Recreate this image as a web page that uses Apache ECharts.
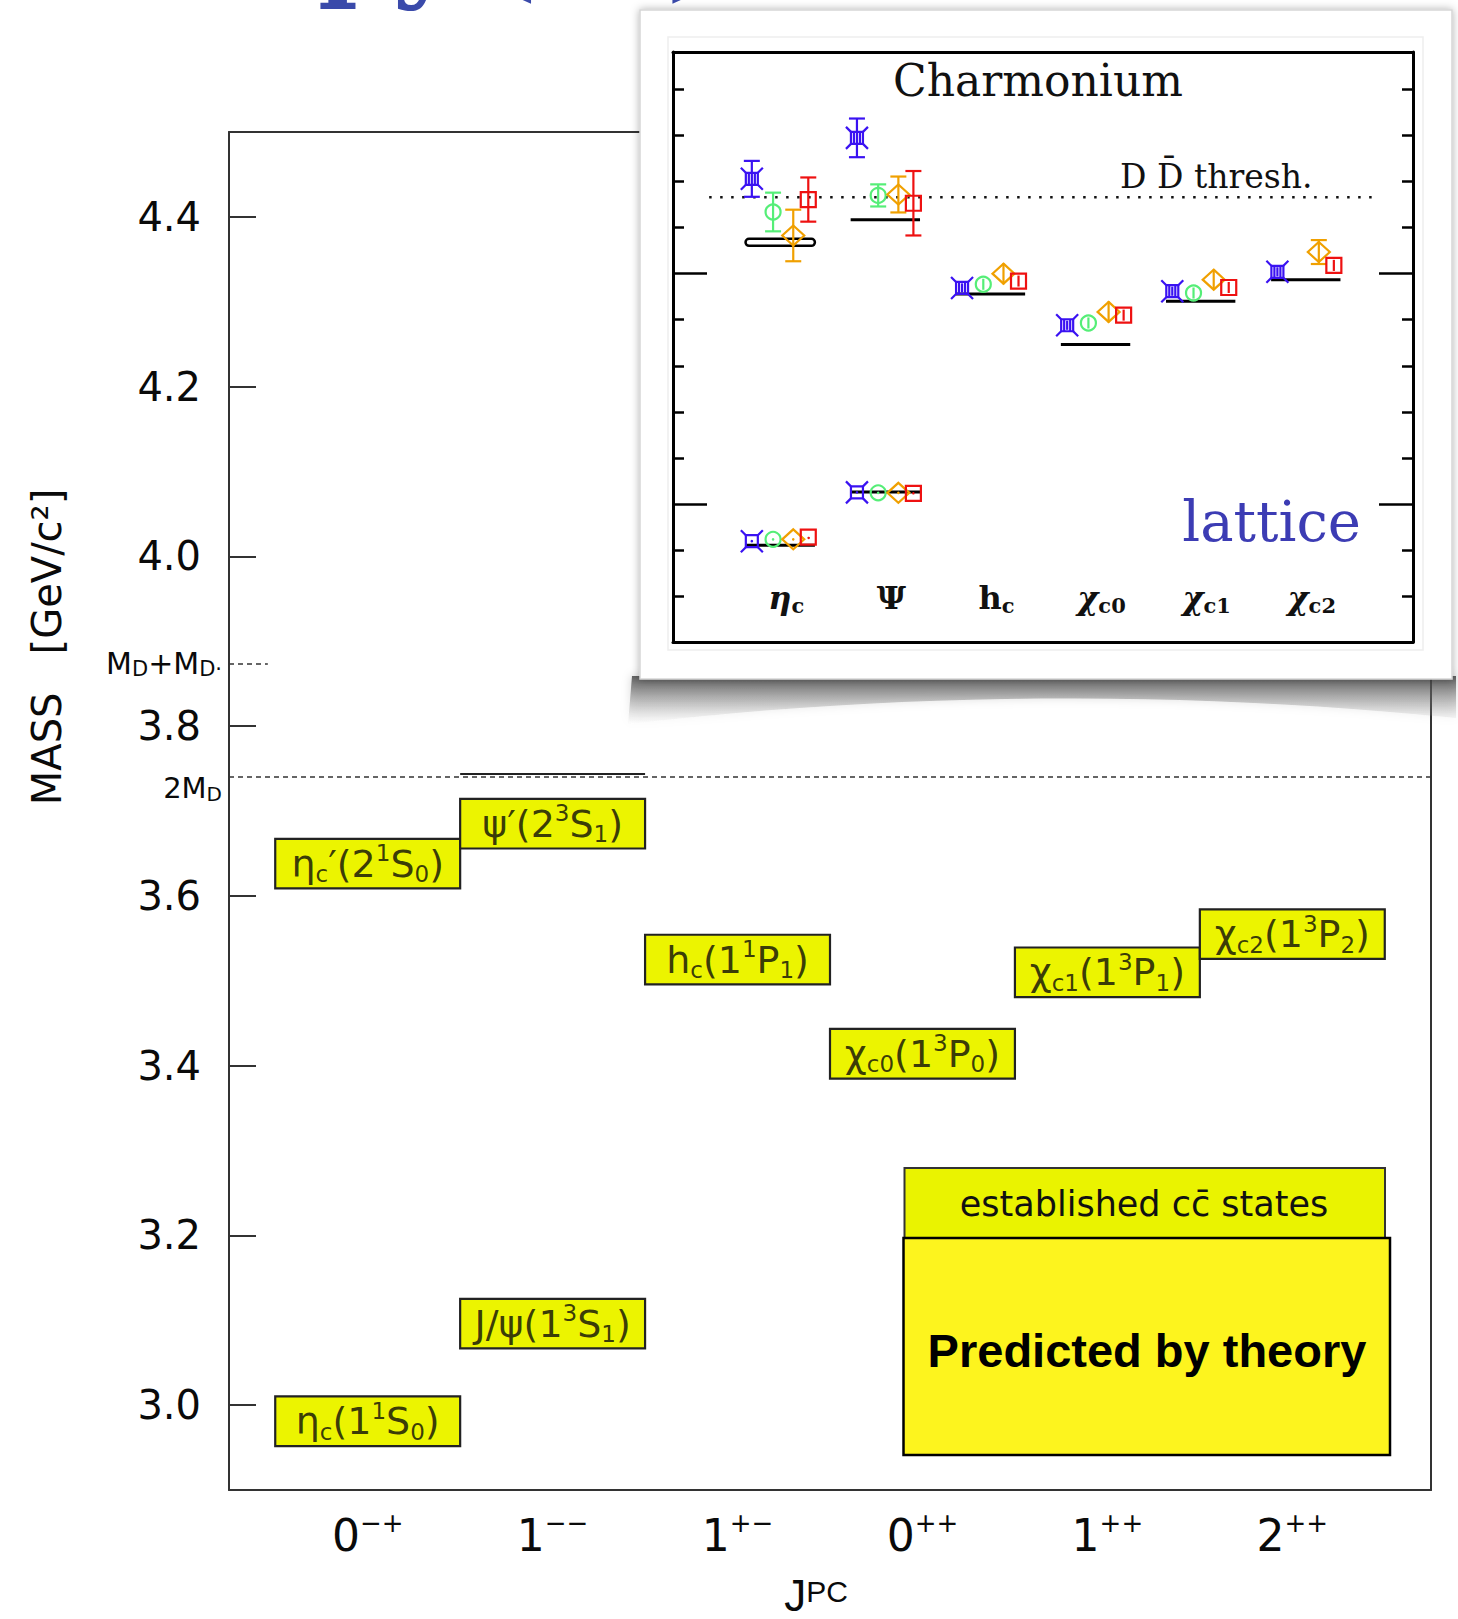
<!DOCTYPE html>
<html><head><meta charset="utf-8">
<script src="https://cdn.jsdelivr.net/npm/echarts@6/dist/echarts.min.js"></script>
<style>html,body{margin:0;padding:0;background:#fff}#c{width:1458px;height:1619px}</style>
</head><body><div id="c"></div>
<script>
// ---------------- DATA ----------------
// main chart: J^PC columns
const jpcColumns = [0, 1, 2, 3, 4, 5];
const jpcBase = ['0', '1', '1', '0', '1', '2'];
const jpcSup = ['\u2212+', '\u2212\u2212', '+\u2212', '++', '++', '++'];
const massTicks = [3.0, 3.2, 3.4, 3.6, 3.8, 4.0, 4.2, 4.4];
// established charmonium states
const stateColumn = [0, 1, 0, 1, 2, 3, 4, 5];
const stateMass = [2.981, 3.096, 3.638, 3.685, 3.525, 3.414, 3.510, 3.555];
const stateLabels = [
  '{n|\u03b7}{sub|c}{n|(1}{sup|1}{n|S}{sub|0}{n|)}',
  '{n|J/\u03c8(1}{sup|3}{n|S}{sub|1}{n|)}',
  '{n|\u03b7}{sub|c}{n|\u2032(2}{sup|1}{n|S}{sub|0}{n|)}',
  '{n|\u03c8\u2032(2}{sup|3}{n|S}{sub|1}{n|)}',
  '{n|h}{sub|c}{n|(1}{sup|1}{n|P}{sub|1}{n|)}',
  '{n|\u03c7}{sub|c0}{n|(1}{sup|3}{n|P}{sub|0}{n|)}',
  '{n|\u03c7}{sub|c1}{n|(1}{sup|3}{n|P}{sub|1}{n|)}',
  '{n|\u03c7}{sub|c2}{n|(1}{sup|3}{n|P}{sub|2}{n|)}'
];
// thresholds (GeV)
const thresholdMass = [3.740, 3.874];           // 2M_D, M_D+M_D*
const thresholdLabels = ['{m|2M}{s|D}', '{m|M}{s|D}{m|+M}{s|D\u00b7}'];
const psiLineMass = 3.744;                       // short solid line in the 1-- column

// inset (lattice)
const insetCols = [0, 1, 2, 3, 4, 5];
const insetNames = [
  '{g|\u03b7}{s|c}', '{u|\u03a8}', '{u|h}{s|c}', '{g|\u03c7}{s|c0}', '{g|\u03c7}{s|c1}', '{g|\u03c7}{s|c2}'
];
const insetExpCol = [0, 0, 1, 1, 2, 3, 4, 5];
const insetExpMass = [2.981, 3.639, 3.097, 3.688, 3.527, 3.417, 3.511, 3.558];
const insetThreshold = 3.737;
const insetMinorTicks = [2.871, 2.971, 3.171, 3.271, 3.371, 3.471, 3.671, 3.771, 3.871, 3.971];
const insetMajorTicks = [3.071, 3.571];
// lattice results: [column, mass, error]
const latticeBlue = [[0, 2.990, 0], [0, 3.777, 0.039], [1, 3.096, 0], [1, 3.866, 0.042],
  [2, 3.540, 0.010], [3, 3.459, 0.010], [4, 3.533, 0.010], [5, 3.575, 0.010]];
const latticeGreen = [[0, 2.994, 0], [0, 3.705, 0.042], [1, 3.095, 0], [1, 3.741, 0.024],
  [2, 3.548, 0.012], [3, 3.464, 0.012], [4, 3.529, 0.012]];
const latticeOrange = [[0, 2.994, 0], [0, 3.654, 0.056], [1, 3.095, 0], [1, 3.743, 0.039],
  [2, 3.571, 0.023], [3, 3.488, 0.023], [4, 3.558, 0.022], [5, 3.618, 0.026]];
const latticeRed = [[0, 2.999, 0], [0, 3.732, 0.048], [1, 3.094, 0], [1, 3.724, 0.070],
  [2, 3.555, 0.012], [3, 3.481, 0.012], [4, 3.541, 0.012], [5, 3.589, 0.012]];

// ---------------- STYLE ----------------
const SANS = '"DejaVu Sans", sans-serif';
const ARIAL = '"Liberation Sans", Arial, sans-serif';
const SERIF = '"DejaVu Serif", serif';
const BOX_HALF_H = 0.0292, BOX_HALF_W = 0.5;
const EXP_HALF = 0.33, DOUBLE_LINE_INDEX = 1;
const LAT_DX = {blue: -0.27, green: -0.068, orange: 0.124, red: 0.267};
const LAT_COLOR = {blue: '#3a12f2', green: '#55ee77', orange: '#f0a000', red: '#ee1111'};
const CAP = 8;
const MAIN_X = [-0.75, 5.75], MAIN_Y = [2.9, 4.5];
const INS_X = [-1.02, 6.02], INS_Y = [2.771, 4.0525];
const INS_THR_X = [-0.676, 5.63];

// decorative curled-page shadow below the inset (quadratic outline)
const curlPts = [[632, 676], [1456, 676]];
(function () {
  const p0 = [1456, 718], c = [1040, 676], p1 = [628, 724];
  for (let i = 0; i <= 24; i++) {
    const t = i / 24, u = 1 - t;
    curlPts.push([u * u * p0[0] + 2 * u * t * c[0] + t * t * p1[0], u * u * p0[1] + 2 * u * t * c[1] + t * t * p1[1]]);
  }
})();

const stateRich = {
  n: {fontFamily: SANS, fontSize: 38, color: '#0a0a0a', lineHeight: 44},
  sub: {fontFamily: SANS, fontSize: 23, color: '#0a0a0a', lineHeight: 23, verticalAlign: 'bottom'},
  sup: {fontFamily: SANS, fontSize: 23, color: '#0a0a0a', lineHeight: 23, verticalAlign: 'top'}
};

function renderBox(params, api) {
  const c = api.value(0), m = api.value(1);
  const a = api.coord([c - BOX_HALF_W, m + BOX_HALF_H]);
  const b = api.coord([c + BOX_HALF_W, m - BOX_HALF_H]);
  return {type: 'rect', shape: {x: a[0], y: a[1], width: b[0] - a[0], height: b[1] - a[1]},
    style: {fill: '#ecf400', stroke: '#222', lineWidth: 2.2}};
}
function renderExpLine(params, api) {
  const c = api.value(0), m = api.value(1);
  const a = api.coord([c - EXP_HALF, m]), b = api.coord([c + EXP_HALF, m]);
  if (params.dataIndex === DOUBLE_LINE_INDEX) {
    return {type: 'rect', shape: {x: a[0], y: a[1] - 3.5, width: b[0] - a[0], height: 7, r: 3.5},
      style: {fill: '#fff', stroke: '#000', lineWidth: 2.5}};
  }
  return {type: 'line', shape: {x1: a[0], y1: a[1], x2: b[0], y2: b[1]},
    style: {stroke: '#000', lineWidth: 3}};
}
function makeLattice(kind) {
  const color = LAT_COLOR[kind], dx = LAT_DX[kind];
  const half = {blue: 6, green: 7.5, orange: 10, red: 7.5}[kind];
  return function (params, api) {
    const c = api.value(0), m = api.value(1), e = api.value(2);
    const p = api.coord([c + dx, m]);
    const x = p[0], y = p[1];
    const st = {stroke: color, lineWidth: 2.2, fill: 'none'};
    const kids = [];
    const L = (x1, y1, x2, y2) => kids.push({type: 'line', shape: {x1, y1, x2, y2}, style: st});
    if (e > 0) {
      const yt = api.coord([c + dx, m + e])[1], yb = api.coord([c + dx, m - e])[1];
      L(x, yt, x, yb);
      if ((yb - yt) / 2 > half + 1) { L(x - CAP, yt, x + CAP, yt); L(x - CAP, yb, x + CAP, yb); }
    } else {
      kids.push({type: 'circle', shape: {cx: x, cy: y, r: 1.3}, style: {fill: color}});
    }
    if (kind === 'blue') {
      kids.push({type: 'rect', shape: {x: x - 6, y: y - 6, width: 12, height: 12}, style: st});
      L(x - 6, y - 6, x - 11, y - 11); L(x + 6, y - 6, x + 11, y - 11);
      L(x - 6, y + 6, x - 11, y + 11); L(x + 6, y + 6, x + 11, y + 11);
      if (e > 0) { L(x - 3, y - 6, x - 3, y + 6); L(x + 3, y - 6, x + 3, y + 6); }
    } else if (kind === 'green') {
      kids.push({type: 'circle', shape: {cx: x, cy: y, r: 7.5}, style: st});
    } else if (kind === 'orange') {
      kids.push({type: 'polygon', shape: {points: [[x, y - 10], [x + 11, y], [x, y + 10], [x - 11, y]]}, style: st});
    } else {
      kids.push({type: 'rect', shape: {x: x - 7.5, y: y - 7.5, width: 15, height: 15}, style: st});
    }
    return {type: 'group', children: kids};
  };
}

const lineOnly = (extra) => Object.assign({
  type: 'value', axisLine: {show: true, onZero: false, lineStyle: {color: '#333', width: 2}},
  axisTick: {show: false}, axisLabel: {show: false}, splitLine: {show: false}
}, extra);

const insetY = (pos, vals, len, line) => ({
  type: 'value', gridIndex: 1, position: pos, min: INS_Y[0], max: INS_Y[1], z: 100,
  axisLine: {show: line, onZero: false, lineStyle: {color: '#000', width: 3}},
  axisTick: {show: true, inside: true, length: len, customValues: vals, lineStyle: {color: '#000', width: 2.5}},
  axisLabel: {show: false}, splitLine: {show: false}
});

const option = {
  animation: false,
  backgroundColor: '#fff',
  grid: [
    {left: 229, top: 132, width: 1202, height: 1358, containLabel: false, outerBoundsMode: 'none'},
    {left: 673, top: 52, width: 740, height: 590, containLabel: false, outerBoundsMode: 'none'}
  ],
  xAxis: [
    {type: 'value', gridIndex: 0, position: 'bottom', min: MAIN_X[0], max: MAIN_X[1],
      axisLine: {show: true, onZero: false, lineStyle: {color: '#333', width: 2}},
      axisTick: {show: false}, splitLine: {show: false},
      axisLabel: {customValues: jpcColumns, margin: 20,
        formatter: v => '{d|' + jpcBase[Math.round(v)] + '}{s|' + jpcSup[Math.round(v)] + '}',
        rich: {d: {fontFamily: SANS, fontSize: 44, color: '#0a0a0a', lineHeight: 50},
               s: {fontFamily: SANS, fontSize: 26, color: '#0a0a0a', lineHeight: 34, verticalAlign: 'top'}}},
      name: '{j|J}{s|PC}', nameLocation: 'middle', nameGap: 86,
      nameTextStyle: {padding: [0, 28, 0, 0],
        rich: {j: {fontFamily: ARIAL, fontSize: 44, color: '#0a0a0a', lineHeight: 38},
               s: {fontFamily: ARIAL, fontSize: 30, color: '#0a0a0a', lineHeight: 24, verticalAlign: 'top'}}}},
    lineOnly({gridIndex: 0, position: 'top', min: MAIN_X[0], max: MAIN_X[1]}),
    {type: 'value', gridIndex: 1, position: 'bottom', min: INS_X[0], max: INS_X[1], z: 100,
      axisLine: {show: true, onZero: false, lineStyle: {color: '#000', width: 3}},
      axisTick: {show: false}, splitLine: {show: false},
      axisLabel: {customValues: insetCols, inside: true, margin: 26, padding: [0, 0, 0, 12],
        formatter: v => insetNames[Math.round(v)],
        rich: {g: {fontFamily: SERIF, fontSize: 32, fontStyle: 'italic', fontWeight: 'bold', color: '#111', lineHeight: 36},
               u: {fontFamily: SERIF, fontSize: 32, fontWeight: 'bold', color: '#111', lineHeight: 36},
               s: {fontFamily: SERIF, fontSize: 21, fontWeight: 'bold', color: '#111', lineHeight: 21, verticalAlign: 'bottom'}}}},
    {type: 'value', gridIndex: 1, position: 'top', min: INS_X[0], max: INS_X[1], z: 100,
      axisLine: {show: true, onZero: false, lineStyle: {color: '#000', width: 3}},
      axisTick: {show: false}, axisLabel: {show: false}, splitLine: {show: false}}
  ],
  yAxis: [
    {type: 'value', gridIndex: 0, position: 'left', min: MAIN_Y[0], max: MAIN_Y[1],
      axisLine: {show: true, onZero: false, lineStyle: {color: '#333', width: 2}},
      axisTick: {show: true, inside: true, length: 27, customValues: massTicks, lineStyle: {color: '#333', width: 2}},
      axisLabel: {customValues: massTicks, formatter: v => v.toFixed(1), margin: 28,
        fontFamily: SANS, fontSize: 40, color: '#0a0a0a'},
      splitLine: {show: false}},
    lineOnly({gridIndex: 0, position: 'right', min: MAIN_Y[0], max: MAIN_Y[1]}),
    insetY('left', insetMinorTicks, 11, true),
    insetY('left', insetMajorTicks, 34, false),
    insetY('right', insetMinorTicks, 11, true),
    insetY('right', insetMajorTicks, 34, false)
  ],
  graphic: [
    // slide title, cut off at the top edge (mostly its descenders remain visible)
    {type: 'text', z: 45, x: 455, y: 3,
      style: {text: 'Spectroscopy', font: 'bold 107px ' + SERIF, fill: '#3a4aaa', align: 'right', verticalAlign: 'bottom'}},
    {type: 'text', z: 45, x: 486, y: 3,
      style: {text: '(cc\u0304)', font: 'bold 107px ' + SERIF, fill: '#3a4aaa', align: 'left', verticalAlign: 'bottom'}},
    // y-axis title
    {type: 'text', x: 47, y: 647, rotation: Math.PI / 2, z: 5,
      style: {text: 'MASS   [GeV/c\u00b2]', font: '40px ' + SANS, fill: '#0a0a0a', align: 'center', verticalAlign: 'middle'}},
    // legend boxes
    {type: 'rect', z: 5, shape: {x: 904.5, y: 1168, width: 480.5, height: 70},
      style: {fill: '#eaf300', stroke: '#333', lineWidth: 2}},
    {type: 'text', z: 6, x: 1144, y: 1204,
      style: {text: 'established cc\u0304 states', font: '35px ' + SANS, fill: '#111', align: 'center', verticalAlign: 'middle'}},
    {type: 'rect', z: 7, shape: {x: 903.5, y: 1238, width: 486.5, height: 217},
      style: {fill: '#fdf41e', stroke: '#000', lineWidth: 2.5}},
    {type: 'text', z: 8, x: 1147, y: 1350,
      style: {text: 'Predicted by theory', font: 'bold 47px ' + ARIAL, fill: '#000', align: 'center', verticalAlign: 'middle'}},
    // inset panel + curl shadow
    {type: 'polygon', z: 48, shape: {points: curlPts},
      style: {fill: {type: 'linear', x: 0, y: 0, x2: 0, y2: 1, colorStops: [
        {offset: 0, color: 'rgba(70,70,70,0.85)'}, {offset: 1, color: 'rgba(160,160,160,0)'}]},
        shadowBlur: 10, shadowColor: 'rgba(0,0,0,0.25)'}},
    {type: 'rect', z: 50, shape: {x: 640, y: 10, width: 812, height: 669},
      style: {fill: '#fff', stroke: '#d6d6d6', lineWidth: 1.5, shadowBlur: 8, shadowColor: 'rgba(0,0,0,0.3)'}},
    {type: 'rect', z: 51, shape: {x: 668, y: 37, width: 755, height: 613},
      style: {fill: 'none', stroke: '#eeeeee', lineWidth: 1.5}},
    // inset texts
    {type: 'text', z: 120, x: 893, y: 80,
      style: {text: 'Charmonium', font: '44px ' + SERIF, fill: '#111', align: 'left', verticalAlign: 'middle'}},
    {type: 'text', z: 120, x: 1120, y: 176,
      style: {text: 'D D\u0304 thresh.', font: '33px ' + SERIF, fill: '#111', align: 'left', verticalAlign: 'middle'}},
    {type: 'text', z: 120, x: 1361, y: 521,
      style: {text: 'lattice', font: '56px ' + SERIF, fill: '#3c3cb4', align: 'right', verticalAlign: 'middle'}}
  ],
  series: [
    {type: 'custom', name: 'states', xAxisIndex: 0, yAxisIndex: 0, z: 2, renderItem: renderBox,
      data: stateColumn.map((c, i) => [c, stateMass[i]])},
    {type: 'scatter', name: 'state labels', xAxisIndex: 0, yAxisIndex: 0, z: 3,
      symbol: 'rect', symbolSize: 1, itemStyle: {color: 'transparent'},
      data: stateColumn.map((c, i) => [c, stateMass[i]]),
      label: {show: true, position: 'inside', formatter: p => stateLabels[p.dataIndex], rich: stateRich},
      markLine: {silent: true, symbol: 'none', animation: false,
        data: [
          [{coord: [MAIN_X[0], thresholdMass[0]], lineStyle: {type: [5, 4], color: '#333', width: 1.5},
            label: {show: true, position: 'start', distance: 7, formatter: thresholdLabels[0], padding: [22, 0, 0, 0],
              rich: {m: {fontFamily: SANS, fontSize: 29, color: '#0a0a0a', lineHeight: 32},
                     s: {fontFamily: SANS, fontSize: 20, color: '#0a0a0a', lineHeight: 20, verticalAlign: 'bottom'}}}},
           {coord: [MAIN_X[1], thresholdMass[0]]}],
          [{coord: [MAIN_X[0], thresholdMass[1]], lineStyle: {type: [5, 4], color: '#333', width: 1.5},
            label: {show: true, position: 'start', distance: 7, formatter: thresholdLabels[1],
              rich: {m: {fontFamily: SANS, fontSize: 30, color: '#0a0a0a', lineHeight: 32},
                     s: {fontFamily: SANS, fontSize: 21, color: '#0a0a0a', lineHeight: 21, verticalAlign: 'bottom'}}}},
           {coord: [-0.54, thresholdMass[1]]}],
          [{coord: [0.5, psiLineMass], lineStyle: {type: 'solid', color: '#222', width: 1.8}, label: {show: false}},
           {coord: [1.5, psiLineMass]}]
        ]}},
    {type: 'custom', name: 'experiment', xAxisIndex: 2, yAxisIndex: 2, z: 100, renderItem: renderExpLine,
      data: insetExpCol.map((c, i) => [c, insetExpMass[i]])},
    {type: 'line', name: 'DD threshold', xAxisIndex: 2, yAxisIndex: 2, z: 100, showSymbol: false, symbol: 'none',
      lineStyle: {type: [2.5, 8.5], color: '#111', width: 2.5}, silent: true,
      data: INS_THR_X.map(x => [x, insetThreshold])},
    {type: 'custom', name: 'lattice A', xAxisIndex: 2, yAxisIndex: 2, z: 101, renderItem: makeLattice('blue'), data: latticeBlue},
    {type: 'custom', name: 'lattice B', xAxisIndex: 2, yAxisIndex: 2, z: 101, renderItem: makeLattice('green'), data: latticeGreen},
    {type: 'custom', name: 'lattice C', xAxisIndex: 2, yAxisIndex: 2, z: 101, renderItem: makeLattice('orange'), data: latticeOrange},
    {type: 'custom', name: 'lattice D', xAxisIndex: 2, yAxisIndex: 2, z: 101, renderItem: makeLattice('red'), data: latticeRed}
  ]
};

const chart = echarts.init(document.getElementById('c'), null, {renderer: 'svg', width: 1458, height: 1619});
chart.setOption(option);
</script>
</body></html>
